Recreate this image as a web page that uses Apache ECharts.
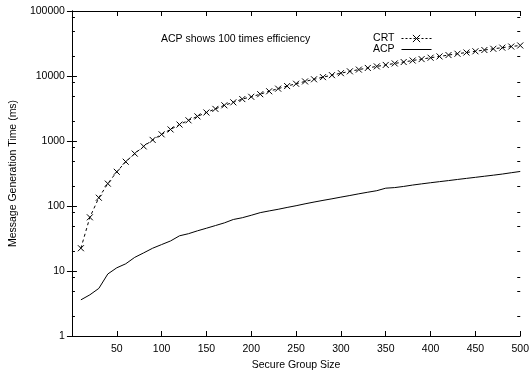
<!DOCTYPE html>
<html><head><meta charset="utf-8">
<script src="https://cdn.jsdelivr.net/npm/echarts@6/dist/echarts.min.js"></script>
<style>html,body{margin:0;padding:0;background:#fff}#c{width:532px;height:376px}</style>
</head><body><div id="c"></div>
<script>
const groupSizes = [10,20,30,40,50,60,70,80,90,100,110,120,130,140,150,160,170,180,190,200,210,220,230,240,250,260,270,280,290,300,310,320,330,340,350,360,370,380,390,400,410,420,430,440,450,460,470,480,490,500];
const crtValues = [22.4,67,134,221,336,480,640,826,1040,1266,1506,1791,2080,2390,2745,3120,3542,3935,4415,4785,5250,5825,6390,7000,7600,8250,8900,9600,10300,11050,11800,12550,13300,14050,14800,15600,16400,17300,18200,19100,20000,21000,22000,23000,24000,25100,26200,27300,28400,29500];
const acpValues = [3.6,4.3,5.4,9.0,11.2,12.9,16.2,19.0,22.4,25.5,29,34.8,37.5,41.5,45.5,50,55,62,66,72,79,84,89,95,101,108,115,122,129,137,145,154,163,172,188,192,200,210,219,228,237,246,256,266,276,287,298,310,325,340];
const minorTickValues = [2,5,8,20,50,80,200,500,800,2000,5000,8000,20000,50000,80000];
const seriesNames = ['CRT','ACP'];
const annotation = 'ACP shows 100 times efficiency';
const xTitle = 'Secure Group Size';
const yTitle = 'Message Generation Time (ms)';

const FONT = 'Liberation Sans, Arial, Helvetica, sans-serif';
const chart = echarts.init(document.getElementById('c'), null, {renderer:'canvas'});
const axisLineStyle = {color:'#000', width:1};
const clear = 'rgba(0,0,0,0)';
chart.setOption({
  animation:false,
  textStyle:{fontFamily:FONT, color:'#000'},
  title:{text:annotation, left:156, top:29, textStyle:{fontFamily:FONT, fontSize:10.5, fontWeight:'normal', color:'#000'}},
  legend:{
    orient:'vertical', right:95, top:28, align:'right', itemGap:0, itemWidth:30, itemHeight:9,
    textStyle:{fontFamily:FONT, fontSize:10.5, color:'#000', lineHeight:9, padding:[0,2,0,0]},
    data:[
      {name:seriesNames[0], itemStyle:{color:clear, borderColor:'#000', borderWidth:1}, lineStyle:{color:'#000', width:1, type:[2,2]}},
      {name:seriesNames[1], itemStyle:{color:clear, borderColor:clear, borderWidth:0}, lineStyle:{color:'#000', width:1, type:'solid'}}
    ]
  },
  grid:{left:70, right:8, top:11, bottom:33, containLabel:false},
  xAxis:[{
    type:'value', min:0, max:500, interval:50, position:'bottom',
    name:xTitle, nameLocation:'middle', nameGap:24,
    nameTextStyle:{fontFamily:FONT, fontSize:10.5, color:'#000'},
    axisLine:{show:true, lineStyle:axisLineStyle},
    axisTick:{show:true, inside:true, length:5, lineStyle:axisLineStyle},
    axisLabel:{fontFamily:FONT, fontSize:10.5, color:'#000', margin:8, formatter:v=>v===0?'':String(v)},
    splitLine:{show:false}
  },{
    type:'value', min:0, max:500, interval:50, position:'top',
    axisLine:{show:true, lineStyle:axisLineStyle},
    axisTick:{show:true, inside:true, length:5, lineStyle:axisLineStyle},
    axisLabel:{show:false}, splitLine:{show:false}
  }],
  yAxis:[{
    type:'log', logBase:10, min:1, max:100000, position:'left',
    name:yTitle, nameLocation:'middle', nameGap:52, nameRotate:90,
    nameTextStyle:{fontFamily:FONT, fontSize:10.5, color:'#000'},
    axisLine:{show:true, lineStyle:axisLineStyle},
    axisTick:{show:true, inside:true, length:5, lineStyle:axisLineStyle},
    axisLabel:{fontFamily:FONT, fontSize:10.5, color:'#000', margin:7, formatter:v=>String(Math.round(v))},
    splitLine:{show:false}, minorTick:{show:false}
  },{
    type:'log', logBase:10, min:1, max:100000, position:'right',
    axisLine:{show:true, lineStyle:axisLineStyle},
    axisTick:{show:true, inside:true, length:5, lineStyle:axisLineStyle},
    axisLabel:{show:false}, splitLine:{show:false}
  }],
  series:[{
    name:seriesNames[0], type:'line', xAxisIndex:0, yAxisIndex:0,
    data:groupSizes.map((x,i)=>[x,crtValues[i]]),
    symbol:'path://M0,0L10,10M10,0L0,10', symbolSize:6, showSymbol:true,
    itemStyle:{color:clear, borderColor:'#000', borderWidth:1},
    lineStyle:{color:'#000', width:1, type:[3,3]},
    emphasis:{disabled:true}
  },{
    name:seriesNames[1], type:'line', xAxisIndex:0, yAxisIndex:0,
    data:groupSizes.map((x,i)=>[x,acpValues[i]]),
    symbol:'none', showSymbol:false,
    itemStyle:{color:'#000'},
    lineStyle:{color:'#000', width:1, type:'solid'},
    emphasis:{disabled:true}
  },{
    name:'minorTicks', type:'custom', xAxisIndex:0, yAxisIndex:0, silent:true,
    data:minorTickValues.map(v=>[0,v]),
    renderItem:function(params, api){
      const y = Math.round(api.coord([0, api.value(1)])[1]) + 0.5;
      const cs = params.coordSys;
      return {type:'group', children:[
        {type:'line', shape:{x1:cs.x, y1:y, x2:cs.x+3, y2:y}, style:{stroke:'#000', lineWidth:1}},
        {type:'line', shape:{x1:cs.x+cs.width-3, y1:y, x2:cs.x+cs.width, y2:y}, style:{stroke:'#000', lineWidth:1}}
      ]};
    }
  }]
});
</script></body></html>
